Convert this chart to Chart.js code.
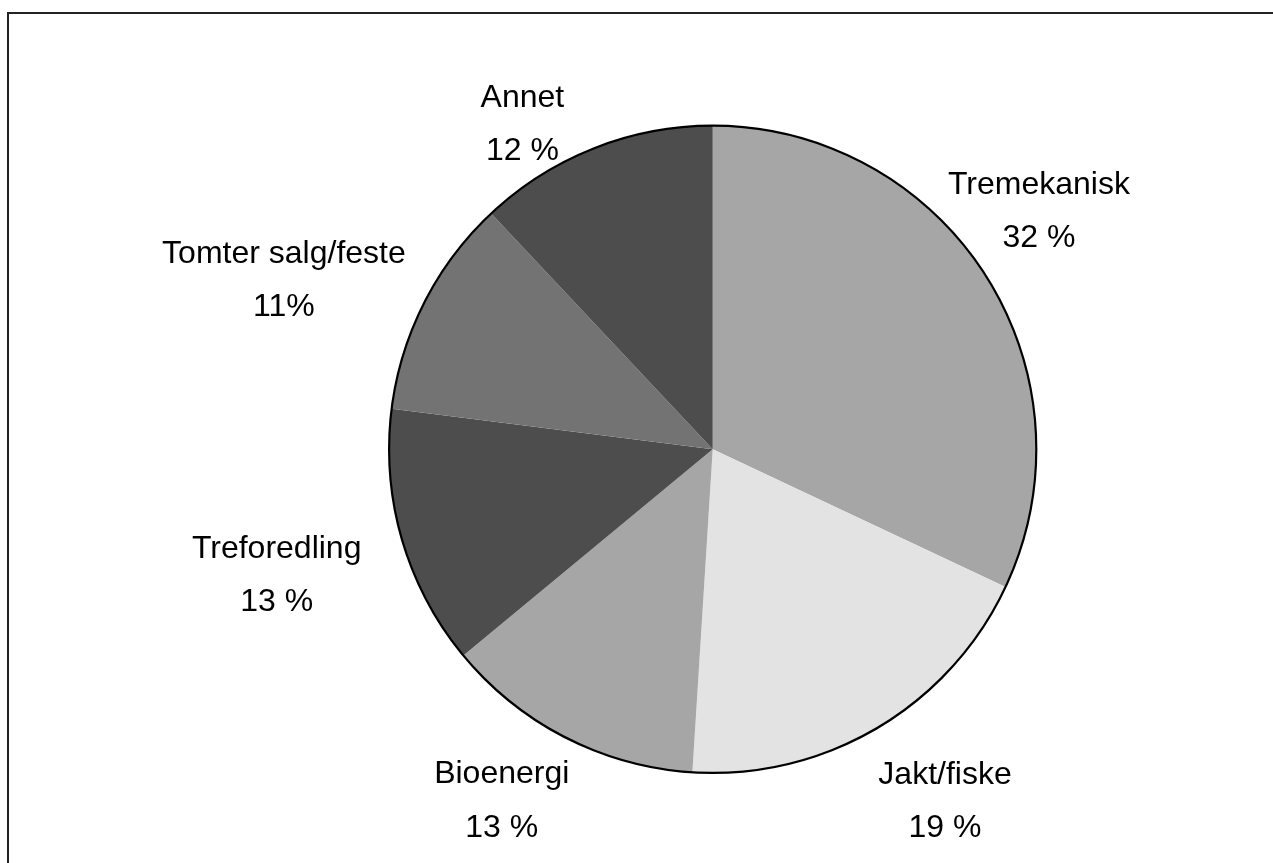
<!DOCTYPE html>
<html>
<head>
<meta charset="utf-8">
<script src="https://cdn.jsdelivr.net/npm/chart.js@4/dist/chart.umd.min.js"></script>
<style>
  html, body { margin: 0; padding: 0; background: #fff; overflow: hidden; }
  #wrap { position: relative; width: 1273px; height: 863px; }
  #frame { position: absolute; left: 7px; top: 12px; width: 1400px; height: 1000px;
           border-top: 2px solid #222; border-left: 2px solid #222; box-sizing: border-box; }
  canvas { position: absolute; left: 0; top: 0; }
</style>
</head>
<body>
<div id="wrap">
  <div id="frame"></div>
  <canvas id="c" width="1273" height="863"></canvas>
</div>
<script>
// ---- data ----
const categories = ["Tremekanisk", "Jakt/fiske", "Bioenergi", "Treforedling", "Tomter salg/feste", "Annet"];
const shares = [32, 19, 13, 13, 11, 12];
const shareLabels = ["32 %", "19 %", "13 %", "13 %", "11%", "12 %"];
const sliceColors = ["#a6a6a6", "#e3e3e3", "#a6a6a6", "#4d4d4d", "#737373", "#4d4d4d"];

// label placement relative to pie geometry (angle from top clockwise in degrees, radius multiple)
const labelAngle = [53.7, 146.45, 211.1, 254.1, 291.7, 329.8];
const labelRadius = [1.251, 1.299, 1.262, 1.401, 1.426, 1.169];

const outlinePlugin = {
  id: 'outline',
  afterDatasetsDraw(chart) {
    const arc = chart.getDatasetMeta(0).data[0];
    if (!arc) return;
    const ctx = chart.ctx;
    ctx.save();
    ctx.beginPath();
    ctx.arc(arc.x, arc.y, arc.outerRadius, 0, Math.PI * 2);
    ctx.lineWidth = 2.2;
    ctx.strokeStyle = '#000';
    ctx.stroke();
    ctx.restore();
  }
};

const labelPlugin = {
  id: 'pieLabels',
  afterDraw(chart) {
    const meta = chart.getDatasetMeta(0);
    const ctx = chart.ctx;
    ctx.save();
    ctx.fillStyle = '#000';
    ctx.font = '32px "Liberation Sans", Arial, sans-serif';
    ctx.textAlign = 'center';
    ctx.textBaseline = 'alphabetic';
    meta.data.forEach((arc, i) => {
      const a = labelAngle[i] * Math.PI / 180;
      const r = arc.outerRadius * labelRadius[i];
      const cx = arc.x + Math.sin(a) * r;
      const cy = arc.y - Math.cos(a) * r;
      ctx.fillText(categories[i], cx, cy - 15.5);
      ctx.fillText(shareLabels[i], cx, cy + 37.8);
    });
    ctx.restore();
  }
};

new Chart(document.getElementById('c'), {
  type: 'pie',
  data: {
    labels: categories,
    datasets: [{
      data: shares,
      backgroundColor: sliceColors,
      borderWidth: 0
    }]
  },
  options: {
    responsive: false,
    animation: false,
    layout: { padding: { top: 125.7, bottom: 90.1, left: 389.1, right: 236.7 } },
    plugins: {
      legend: { display: false },
      tooltip: { enabled: false },
      title: { display: false }
    }
  },
  plugins: [outlinePlugin, labelPlugin]
});
</script>
</body>
</html>
